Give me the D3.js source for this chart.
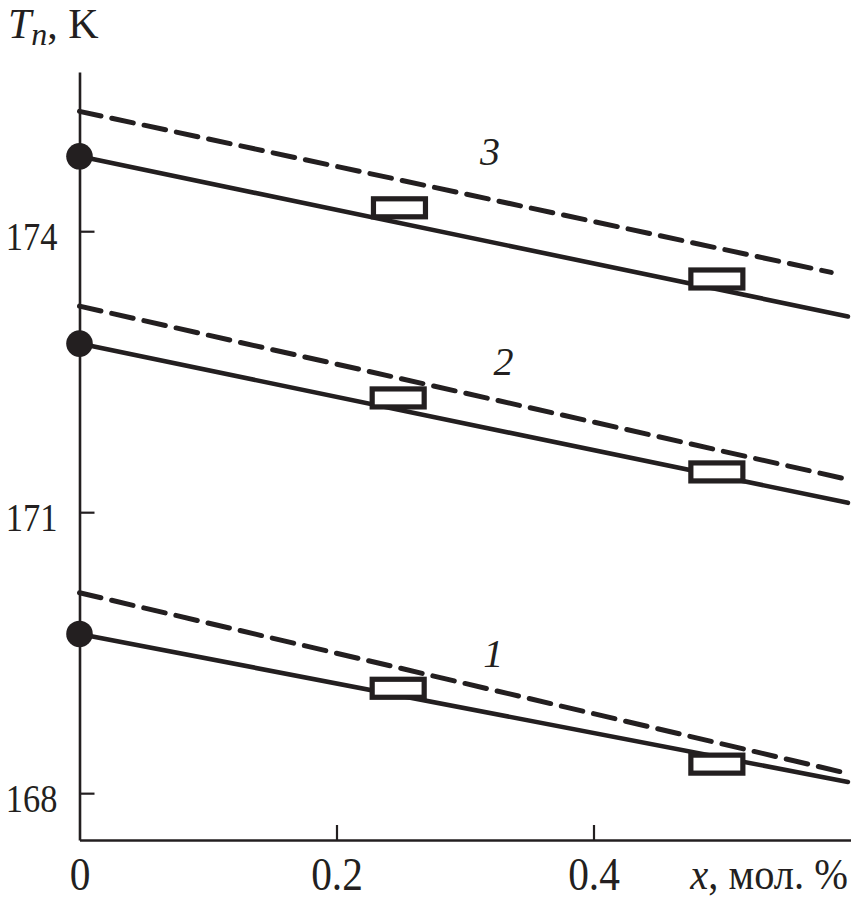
<!DOCTYPE html>
<html>
<head>
<meta charset="utf-8">
<script src="https://cdn.jsdelivr.net/npm/d3@7"></script>
<style>
  html, body { margin: 0; padding: 0; background: #fff; }
  svg { display: block; }
  text { font-family: "Liberation Serif", "Times New Roman", serif; fill: #231f20; }
</style>
</head>
<body>
<svg id="chart" width="854" height="902"></svg>
<script>
// ---- data ----
const seriesNames = ["1", "2", "3"];
// solid lines: [x, T] at both ends
const solidLines = [
  [[0, 169.70], [0.598, 168.12]],
  [[0, 172.80], [0.598, 171.10]],
  [[0, 174.80], [0.598, 173.09]]
];
// dashed lines
const dashedLines = [
  [[0, 170.14], [0.598, 168.21]],
  [[0, 173.20], [0.598, 171.35]],
  [[0, 175.28], [0.585, 173.56]]
];
// filled circles at x = 0
const circlePoints = [[0, 169.70], [0, 172.80], [0, 174.80]];
// open rectangles (experimental points)
const rectPoints = [
  [[0.248, 169.12], [0.496, 168.31]],
  [[0.248, 172.22], [0.496, 171.43]],
  [[0.249, 174.25], [0.496, 173.49]]
];
// curve label positions [x, T] (baseline)
const labelPos = [[0.322, 169.35], [0.330, 172.46], [0.3195, 174.71]];
const xTicks = [0, 0.2, 0.4];
const xTickLabels = ["0", "0.2", "0.4"];
const yTicks = [168, 171, 174];

// ---- layout ----
const svg = d3.select("#chart");
const ink = "#231f20";
const x = d3.scaleLinear().domain([0, 0.6]).range([79.5, 850.5]);
const y = d3.scaleLinear().domain([167.5, 175.7]).range([840, 72]);
const sy = 0.84; // horizontal condensing of the y tick font
const sxx = 0.9; // horizontal condensing of the x tick font

// axes
const gx = svg.append("g").attr("transform", `translate(0,${y(167.5)})`)
  .call(d3.axisBottom(x).tickValues(xTicks).tickSize(-15).tickSizeOuter(0)
    .tickFormat((d, i) => xTickLabels[i]));
const gy = svg.append("g").attr("transform", `translate(${x(0)},0)`)
  .call(d3.axisLeft(y).tickValues(yTicks).tickSize(-15).tickSizeOuter(0)
    .tickFormat(d3.format("d")));

[gx, gy].forEach(g => {
  g.select(".domain").attr("stroke", ink).attr("stroke-width", 2.6);
  g.selectAll(".tick line").attr("stroke", ink).attr("stroke-width", 2.2);
  g.selectAll(".tick text").attr("font-family", "Liberation Serif").attr("fill", ink);
});
gx.selectAll(".tick").filter(d => d === 0).select("line").remove();
gx.selectAll(".tick text").attr("font-size", 46).attr("dy", null).attr("y", 50)
  .attr("transform", `scale(${sxx},1)`).attr("x", 0);
gy.selectAll(".tick text").attr("font-size", 41).attr("dy", null).attr("y", 18)
  .attr("x", -22 / sy).attr("transform", `scale(${sy},1)`);

// x axis title
const xt = svg.append("text").attr("x", 848).attr("y", 889)
  .attr("text-anchor", "end").attr("font-size", 44)
  .attr("transform", `translate(848,0) scale(0.92,1) translate(-848,0)`);
xt.append("tspan").attr("font-style", "italic").text("x");
xt.append("tspan").text(", мол. %");

// y axis title
const yt = svg.append("text").attr("x", 8).attr("y", 38).attr("font-size", 42);
yt.append("tspan").attr("font-style", "italic").text("T");
yt.append("tspan").attr("font-style", "italic").attr("font-size", 32).attr("dy", 7).text("n");
yt.append("tspan").attr("dy", -7).text(", K");

const line = d3.line().x(d => x(d[0])).y(d => y(d[1]));

// dashed lines
svg.append("g").selectAll("path").data(dashedLines).join("path")
  .attr("d", line).attr("fill", "none").attr("stroke", ink)
  .attr("stroke-width", 5).attr("stroke-dasharray", "22,11").attr("stroke-linecap", "round");

// solid lines
svg.append("g").selectAll("path").data(solidLines).join("path")
  .attr("d", line).attr("fill", "none").attr("stroke", ink)
  .attr("stroke-width", 4.6).attr("stroke-linecap", "round");

// rectangles
svg.append("g").selectAll("rect").data(rectPoints.flat()).join("rect")
  .attr("x", d => x(d[0]) - 26).attr("y", d => y(d[1]) - 9)
  .attr("width", 52).attr("height", 18)
  .attr("fill", "#fff").attr("stroke", ink).attr("stroke-width", 5.2);

// circles
svg.append("g").selectAll("circle").data(circlePoints).join("circle")
  .attr("cx", d => x(d[0])).attr("cy", d => y(d[1])).attr("r", 13.3)
  .attr("fill", ink);

// curve labels
svg.append("g").selectAll("text").data(labelPos).join("text")
  .attr("x", d => x(d[0])).attr("y", d => y(d[1]))
  .attr("text-anchor", "middle").attr("font-style", "italic").attr("font-size", 40)
  .text((d, i) => seriesNames[i]);
</script>
</body>
</html>
